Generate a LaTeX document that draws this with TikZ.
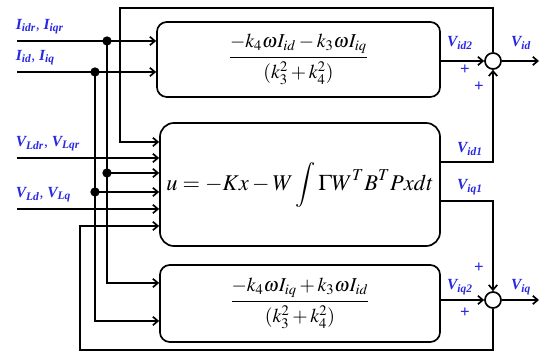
\documentclass[tikz,border=0pt]{standalone}
\usepackage{amsmath}
\usepackage{mathptmx}
\usepackage{fontspec}
\setmainfont{Liberation Serif}
\usetikzlibrary{arrows.meta,positioning,calc}
\definecolor{lblue}{RGB}{40,40,225}
\newcommand{\sig}[2]{{\bfseries\itshape #1\textsubscript{#2}}}

\begin{document}
\begin{tikzpicture}[x=0.025cm,y=-0.025cm,line width=1.2pt,
    blockbox/.style={draw, rounded corners=7pt, inner sep=0pt},
    sumnode/.style={draw, circle, minimum size=0.4cm, inner sep=0pt},
    flow/.style={-{Straight Barb[length=3.5pt,width=6pt]}},
    lbl/.style={text=lblue, inner sep=0pt, font=\fontsize{11}{13}\selectfont},
    plus/.style={text=lblue, inner sep=0pt, font=\bfseries\large}]
  \useasboundingbox (0,0) rectangle (541,352);
  % blocks
  \node[blockbox, minimum width=7.075cm, minimum height=1.875cm] (fracd) at (298.5,59.5)
    {\fontsize{14}{16}\selectfont $\dfrac{-k_4\omega I_{id}-k_3\omega I_{iq}\rule[-5pt]{0pt}{5pt}}{\rule{0pt}{13pt}(k_3^2+k_4^2)}$};
  \node[blockbox, rounded corners=10pt, minimum width=7cm, minimum height=3.075cm] (ctrl) at (300,184.5)
    {\fontsize{16}{18}\selectfont $u=-Kx-W\displaystyle\int\Gamma W^T B^T Pxdt$};
  \node[blockbox, minimum width=7cm, minimum height=1.925cm] (fracq) at (300,303.5)
    {\fontsize{14}{16}\selectfont $\dfrac{-k_4\omega I_{iq}+k_3\omega I_{id}\rule[-5pt]{0pt}{5pt}}{\rule{0pt}{13pt}(k_3^2+k_4^2)}$};
  % summing junctions
  \node[sumnode] (sumd) at (493,61) {};
  \node[sumnode] (sumq) at (493,300) {};
  % inputs
  \coordinate (idr) at (17,41);
  \coordinate (id) at (17,72);
  \coordinate (vlr) at (17,158);
  \coordinate (vl) at (17,209);
  \coordinate (ja) at (107,41);
  \coordinate (jb) at (95,72);
  \node[lbl, anchor=south west] (lidr) at (15,35) {\sig{I}{idr}, \sig{I}{iqr}};
  \node[lbl, anchor=south west] (lid) at (15,66) {\sig{I}{id}, \sig{I}{iq}};
  \node[lbl, anchor=south west] (lvlr) at (15,152) {\sig{V}{Ldr}, \sig{V}{Lqr}};
  \node[lbl, anchor=south west] (lvl) at (15,203) {\sig{V}{Ld}, \sig{V}{Lq}};
  \draw[flow] (idr) -- (idr -| fracd.west);
  \draw[flow] (id) -- (id -| fracd.west);
  \draw[flow] (vlr) -- (vlr -| ctrl.west);
  \draw[flow] (vl) -- (vl -| ctrl.west);
  % branches
  \draw[flow] (ja) |- (fracq.west |- 0,283);
  \draw[flow] (ja |- 0,173) -- (ctrl.west |- 0,173);
  \draw[flow] (jb) |- (fracq.west |- 0,321);
  \draw[flow] (jb |- 0,192) -- (ctrl.west |- 0,192);
  \fill (ja) circle (3.3pt) (ja |- 0,173) circle (3.3pt);
  \fill (jb) circle (3.3pt) (jb |- 0,192) circle (3.3pt);
  % feedback of the outputs
  \draw[flow] (sumd.north) |- (120,8) |- (ctrl.west |- 0,142);
  \draw[flow] (sumq.south) |- (80,350) |- (ctrl.west |- 0,226);
  % outputs
  \coordinate (outd) at (539,61);
  \coordinate (outq) at (539,300);
  \draw[flow] (fracd.east |- sumd) -- (sumd.west);
  \draw[flow] (ctrl.east |- 0,162) -| (sumd.south);
  \draw[flow] (ctrl.east |- 0,201) -| (sumq.north);
  \draw[flow] (fracq.east |- sumq) -- (sumq.west);
  \draw[flow] (sumd.east) -- (outd);
  \draw[flow] (sumq.east) -- (outq);
  \node[lbl] (lvid2) at (460,43) {\sig{V}{id2}};
  \node[lbl] (lvid) at (521,43) {\sig{V}{id}};
  \node[lbl] (lvid1) at (470,149) {\sig{V}{id1}};
  \node[lbl] (lviq1) at (470,187) {\sig{V}{iq1}};
  \node[lbl] (lviq2) at (460,287) {\sig{V}{iq2}};
  \node[lbl] (lviq) at (521,287) {\sig{V}{iq}};
  \node[plus] (pd1) at (465,70) {+};
  \node[plus] (pd2) at (479,87) {+};
  \node[plus] (pq1) at (479,268) {+};
  \node[plus] (pq2) at (465,313) {+};
\end{tikzpicture}
\end{document}
